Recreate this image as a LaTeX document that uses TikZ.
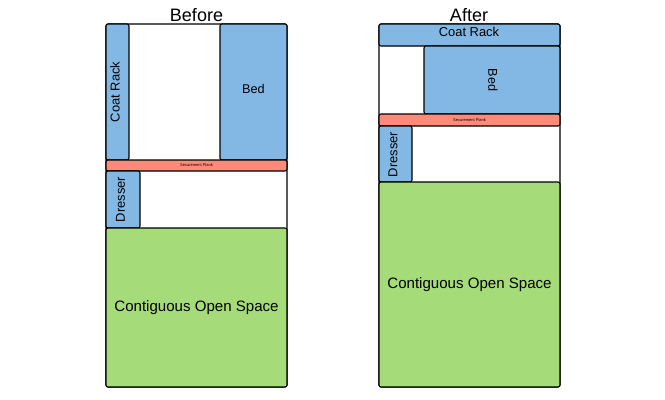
\documentclass[tikz,border=0pt]{standalone}
\usepackage{fontspec}
\setmainfont{Liberation Sans}
\definecolor{furn}{HTML}{83B8E5}
\definecolor{plank}{HTML}{FF8A7A}
\definecolor{open}{HTML}{A5DB78}
\tikzset{
  x=0.75pt,y=-0.75pt,
  room/.style={draw=black,line width=0.8pt,fill=white,rounded corners=1.5pt,anchor=north west,inner sep=0pt,outer sep=0pt},
  piece/.style={room,align=center},
  furniture/.style={piece,fill=furn},
  plankbox/.style={piece,fill=plank,font=\fontsize{3}{4}\selectfont},
  openbox/.style={piece,fill=open,font=\fontsize{11.3}{14}\selectfont},
  title/.style={font=\fontsize{13.5}{16}\selectfont,inner sep=0pt},
  label/.style={font=\fontsize{9.7}{12}\selectfont,inner sep=0pt},
  bedlabel/.style={font=\fontsize{9.5}{12}\selectfont,inner sep=0pt},
  wd/.style={minimum width=#1*0.75pt},
  ht/.style={minimum height=#1*0.75pt}
}
\begin{document}
\begin{tikzpicture}
\useasboundingbox (0,0) rectangle (665,400);
% Before
\node[title] (t1) at (196.5,15.5) {Before};
\node[room,wd=181,ht=363] (r1) at (106,24) {};
\node[furniture,wd=23,ht=136] (c1) at (106,24) {};
\node[label,rotate=90] (c1t) at (115,92) {Coat Rack};
\node[furniture,wd=67,ht=136] (b1) at (220,24) {};
\node[bedlabel] (b1t) at (253.5,89) {Bed};
\node[plankbox,wd=181,ht=11] (p1) at (106,160) {Securement Plank};
\node[furniture,wd=34,ht=57] (d1) at (106,171) {};
\node[label,rotate=90] (d1t) at (120.5,199.5) {Dresser};
\node[openbox,wd=181,ht=159] (o1) at (106,228) {Contiguous Open Space};
% After
\node[title] (t2) at (469,15.5) {After};
\node[room,wd=181,ht=363] (r2) at (379,24) {};
\node[furniture,wd=181,ht=22] (c2) at (379,24) {};
\node[label] (c2t) at (469,32) {Coat Rack};
\node[furniture,wd=136,ht=68] (b2) at (424,46) {};
\node[bedlabel,rotate=-90] (b2t) at (493,80) {Bed};
\node[plankbox,wd=181,ht=12] (p2) at (379,114) {Securement Plank};
\node[furniture,wd=33,ht=56] (d2) at (379,126) {};
\node[label,rotate=90] (d2t) at (393,154.5) {Dresser};
\node[openbox,wd=181,ht=205] (o2) at (379,182) {Contiguous Open Space};
\end{tikzpicture}
\end{document}
